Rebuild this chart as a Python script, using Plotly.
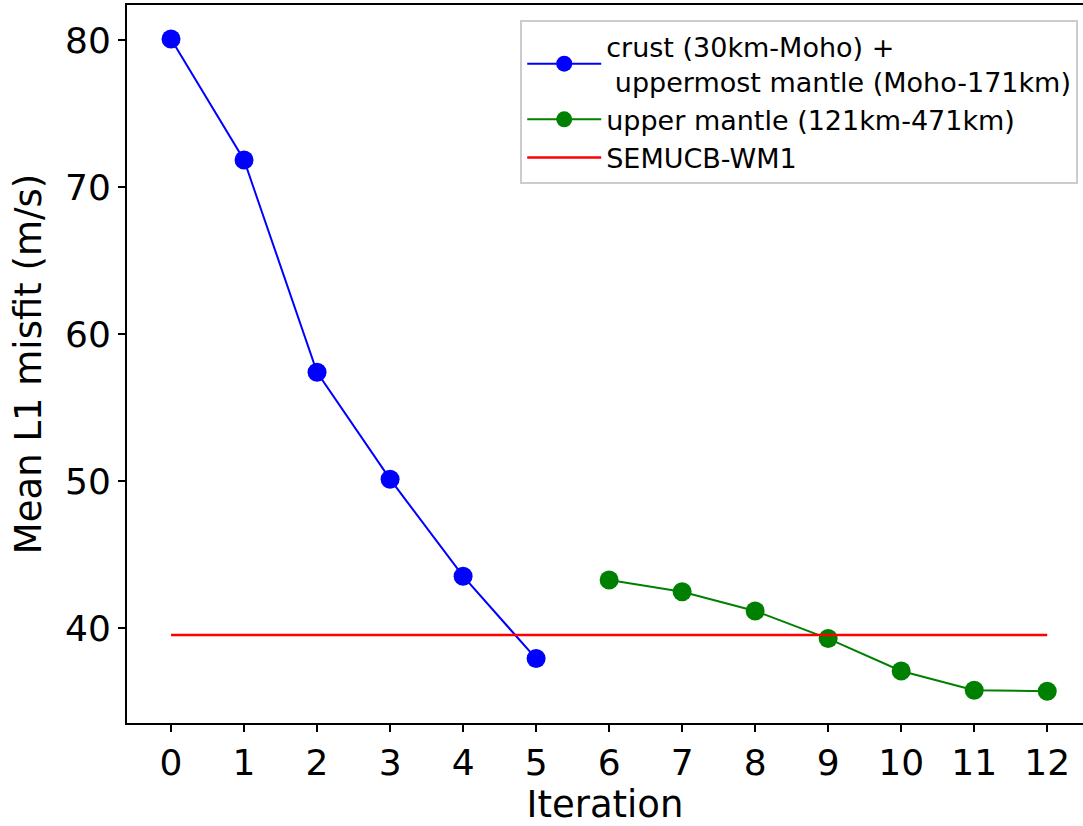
import plotly.graph_objects as go

# Mean L1 misfit per inversion iteration
crust_iter = [0, 1, 2, 3, 4, 5]
crust_misfit = [80.07, 71.84, 57.41, 50.14, 43.54, 37.94]

mantle_iter = [6, 7, 8, 9, 10, 11, 12]
mantle_misfit = [43.28, 42.48, 41.18, 39.30, 37.10, 35.79, 35.72]

ref_iter = [0, 12]
ref_misfit = [39.55, 39.55]

x_ticks = list(range(13))
y_ticks = [40, 50, 60, 70, 80]

FONT = "DejaVu Sans"

fig = go.Figure()
fig.add_trace(go.Scatter(
    x=crust_iter, y=crust_misfit, mode="lines+markers",
    name="crust (30km-Moho) +<br> uppermost mantle (Moho-171km)",
    line=dict(color="blue", width=2),
    marker=dict(color="blue", size=19),
))
fig.add_trace(go.Scatter(
    x=mantle_iter, y=mantle_misfit, mode="lines+markers",
    name="upper mantle (121km-471km)",
    line=dict(color="green", width=2),
    marker=dict(color="green", size=19),
))
fig.add_trace(go.Scatter(
    x=ref_iter, y=ref_misfit, mode="lines",
    name="SEMUCB-WM1",
    line=dict(color="red", width=2.5),
))

fig.update_layout(
    width=1083, height=826,
    margin=dict(l=127, r=0, t=5, b=103),
    paper_bgcolor="white", plot_bgcolor="white",
    font=dict(family=FONT, color="black", size=37),
    showlegend=True,
    legend=dict(
        x=0.995, y=0.979, xanchor="right", yanchor="top",
        font=dict(family=FONT, size=27, color="black"),
        bgcolor="rgba(255,255,255,0.8)",
        bordercolor="#cccccc", borderwidth=2,
        itemwidth=74, tracegroupgap=0,
    ),
)

fig.update_xaxes(
    range=[-0.603, 12.49],
    tickmode="array", tickvals=x_ticks, ticktext=[str(v) for v in x_ticks],
    ticks="outside", ticklen=7, tickwidth=1.5, tickcolor="black",
    showline=True, linecolor="black", linewidth=2, mirror=True,
    showgrid=False, zeroline=False,
    tickfont=dict(family=FONT, size=36),
    title=dict(text="Iteration", font=dict(family=FONT, size=37), standoff=12),
)
fig.update_yaxes(
    range=[33.56, 82.38],
    tickmode="array", tickvals=y_ticks, ticktext=[str(v) for v in y_ticks],
    ticks="outside", ticklen=7, tickwidth=1.5, tickcolor="black",
    showline=True, linecolor="black", linewidth=2, mirror=False,
    showgrid=False, zeroline=False,
    tickfont=dict(family=FONT, size=36),
    title=dict(text="Mean L1 misfit (m/s)", font=dict(family=FONT, size=37), standoff=12),
)

fig.write_html("out.html")
